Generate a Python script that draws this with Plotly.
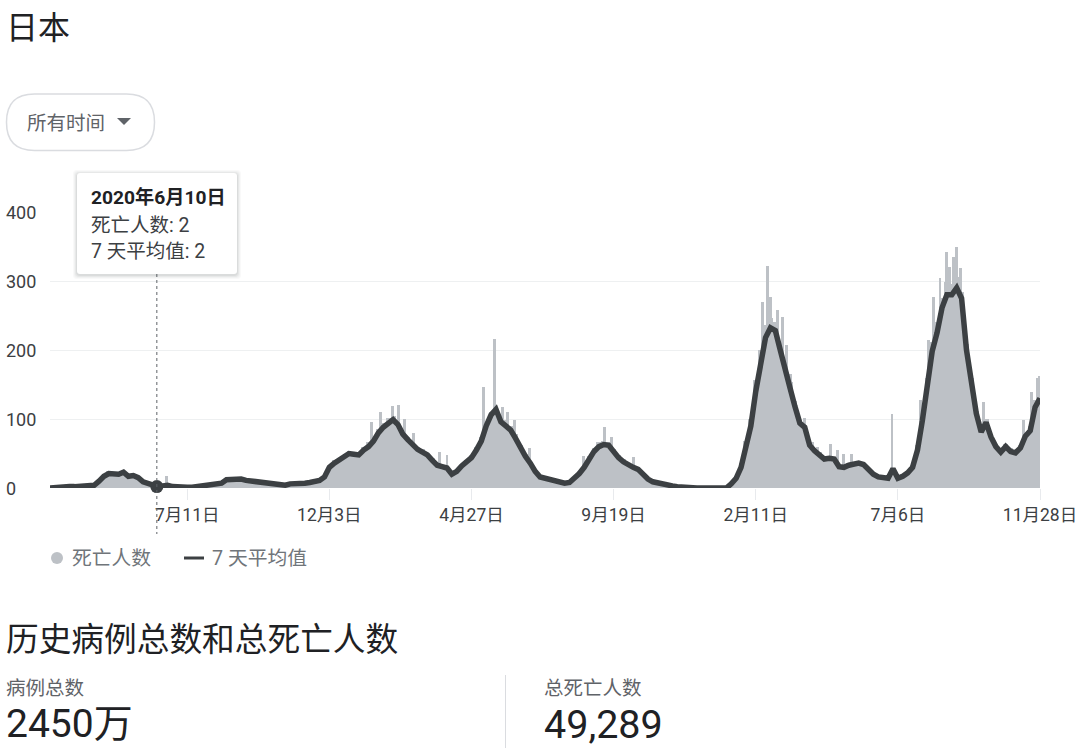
import pandas as pd
import plotly.graph_objects as go

W, H = 1080, 748

# data, one value every 5 days from 2020-02-22
start_date = "2020-02-22"
avg_7d = [0, 1, 1, 1, 2, 2, 3, 3, 4, 4, 10, 17, 21, 20, 20, 23, 17, 18, 15, 9,
          7, 4, 2, 3, 4, 2, 1, 1, 1, 1, 2, 3, 3, 4, 5, 7, 12, 13, 12, 13,
          11, 10, 8, 7, 6, 7, 5, 3, 4, 6, 6, 7, 7, 8, 9, 11, 16, 30, 36, 40,
          44, 50, 49, 48, 55, 60, 68, 80, 88, 94, 99, 92, 78, 70, 62, 56, 52, 48, 40, 33,
          31, 29, 20, 24, 32, 38, 44, 55, 68, 90, 106, 114, 96, 90, 84, 72, 58, 46, 36, 24,
          16, 14, 13, 11, 8, 7, 8, 14, 21, 30, 42, 53, 60, 63, 62, 52, 44, 38, 33, 30,
          27, 20, 13, 9, 7, 5, 3, 3, 2, 1, 1, 1, 0, 0, 0, 0, 0, 0, 0, 6,
          14, 30, 60, 90, 140, 185, 218, 232, 228, 200, 168, 145, 118, 94, 88, 62, 54, 48, 42, 43,
          42, 31, 30, 33, 34, 36, 34, 26, 20, 16, 15, 14, 28, 14, 17, 22, 30, 55, 98, 145,
          198, 225, 261, 280, 280, 290, 275, 200, 155, 108, 81, 95, 74, 60, 52, 60, 53, 51, 58, 75,
          83, 117, 130]
deaths_base = [0, 0, 1, 1, 2, 2, 3, 4, 4, 5, 11, 19, 24, 22, 21, 25, 19, 19, 15, 10,
               7, 4, 2, 4, 5, 2, 1, 1, 1, 1, 2, 3, 4, 4, 6, 8, 13, 14, 13, 14,
               12, 10, 9, 7, 7, 7, 5, 4, 5, 6, 7, 8, 8, 9, 10, 12, 18, 32, 40, 44,
               48, 54, 52, 52, 60, 66, 74, 86, 94, 102, 104, 94, 82, 74, 66, 60, 56, 50, 44, 36,
               34, 30, 22, 26, 34, 40, 48, 60, 74, 96, 110, 114, 104, 98, 90, 78, 62, 50, 38, 26,
               18, 16, 15, 12, 9, 8, 10, 16, 24, 34, 46, 58, 66, 68, 66, 56, 48, 42, 36, 32,
               28, 22, 15, 10, 8, 6, 4, 3, 2, 2, 1, 1, 0, 0, 0, 0, 0, 0, 1, 8,
               18, 36, 68, 100, 156, 200, 236, 246, 240, 212, 180, 154, 126, 96, 92, 66, 58, 52, 46, 46,
               44, 34, 34, 36, 36, 38, 36, 28, 22, 18, 16, 15, 20, 16, 20, 24, 34, 62, 108, 160,
               212, 240, 276, 298, 296, 306, 284, 208, 160, 112, 84, 100, 78, 64, 56, 64, 58, 54, 62, 80,
               90, 128, 100]
spike_dates = ["2020-06-20", "2021-01-15", "2021-01-24", "2021-02-05", "2021-02-12",
               "2021-02-18", "2021-02-27", "2021-03-25", "2021-04-02", "2021-05-09",
               "2021-05-20", "2021-05-29", "2021-06-03", "2021-06-10", "2021-06-25",
               "2021-08-19", "2021-09-10", "2021-09-17", "2021-10-09", "2022-02-18",
               "2022-02-23", "2022-02-26", "2022-03-05", "2022-03-10", "2022-03-14",
               "2022-03-18", "2022-04-02", "2022-04-10", "2022-04-15", "2022-04-28",
               "2022-05-05", "2022-05-12", "2022-05-20", "2022-06-30", "2022-07-29",
               "2022-08-06", "2022-08-11", "2022-08-18", "2022-08-25", "2022-08-28",
               "2022-09-01", "2022-09-04", "2022-09-08", "2022-09-14", "2022-10-01",
               "2022-11-11", "2022-11-19", "2022-11-25", "2022-11-27"]
spike_values = [17, 96, 110, 119, 120, 100, 80, 52, 48, 147,
                216, 118, 110, 99, 58, 46, 88, 74, 45, 270,
                322, 277, 258, 248, 207, 165, 101, 66, 60, 64,
                55, 50, 50, 107, 128, 214, 277, 304, 342, 320,
                335, 349, 319, 219, 125, 99, 139, 159, 162]
x_ticks = ["2020-07-11", "2020-12-03", "2021-04-27", "2021-09-19", "2022-02-11", "2022-07-06", "2022-11-28"]
x_labels = ["7月11日", "12月3日", "4月27日", "9月19日", "2月11日", "7月6日", "11月28日"]
y_ticks = [0, 100, 200, 300, 400]
hover_date = "2020-06-10"
hover_value = 2

dates = pd.date_range(start_date, periods=len(avg_7d), freq="5D")
DAY_MS = 86400000
FONT = "Roboto, 'Noto Sans CJK SC', sans-serif"


def px(x):
    return x / W


def py(y):
    return 1 - y / H


def label(x, y, text, size, color="#3c4043", anchor="left"):
    return dict(x=px(x), y=py(y), xref="paper", yref="paper", text=text, showarrow=False,
                xanchor=anchor, yanchor="middle", borderpad=0,
                font=dict(family=FONT, size=size, color=color))


def round_rect(x0, y0, x1, y1, r):
    a, b, c, d = px(x0), py(y0), px(x1), py(y1)
    rx, ry = r / W, r / H
    return (f"M {a + rx} {b} L {c - rx} {b} Q {c} {b} {c} {b - ry} L {c} {d + ry} Q {c} {d} {c - rx} {d} "
            f"L {a + rx} {d} Q {a} {d} {a} {d + ry} L {a} {b - ry} Q {a} {b} {a + rx} {b} Z")


fig = go.Figure()
fig.add_trace(go.Bar(x=dates, y=deaths_base, width=5 * DAY_MS, marker=dict(color="#bdc1c6", line_width=0),
                     cliponaxis=False, hoverinfo="skip", name="死亡人数"))
fig.add_trace(go.Bar(x=pd.to_datetime(spike_dates), y=spike_values, width=3 * DAY_MS,
                     marker=dict(color="#bdc1c6", line_width=0), cliponaxis=False, hoverinfo="skip",
                     showlegend=False))
fig.add_trace(go.Scatter(x=dates, y=avg_7d, mode="lines", line=dict(color="#3c4043", width=5.5),
                         cliponaxis=False, hoverinfo="skip", name="7 天平均值"))
fig.add_trace(go.Scatter(x=[hover_date], y=[hover_value], mode="markers", cliponaxis=False,
                         marker=dict(color="#3c4043", size=13), hoverinfo="skip", showlegend=False))

shapes = [
    # hover line
    dict(type="line", xref="x", yref="paper", x0=hover_date, x1=hover_date, y0=py(274), y1=py(534),
         line=dict(color="#5f6368", width=1, dash="dot")),
    # time range button
    dict(type="path", xref="paper", yref="paper", path=round_rect(6.5, 94, 154.5, 150.5, 28),
         line=dict(color="#dadce0", width=1.5), fillcolor="white"),
    dict(type="path", xref="paper", yref="paper",
         path=f"M {px(117)} {py(118)} L {px(131)} {py(118)} L {px(124)} {py(125)} Z",
         line_width=0, fillcolor="#5f6368"),
    # legend marks
    dict(type="circle", xref="paper", yref="paper", x0=px(51), x1=px(63), y0=py(552), y1=py(564),
         line_width=0, fillcolor="#bdc1c6"),
    dict(type="line", xref="paper", yref="paper", x0=px(184), x1=px(204), y0=py(558), y1=py(558),
         line=dict(color="#3c4043", width=3)),
    # divider
    dict(type="line", xref="paper", yref="paper", x0=px(505.5), x1=px(505.5), y0=py(675), y1=py(748),
         line=dict(color="#dadce0", width=1)),
]
# tooltip shadow then box
for grow, alpha in [(4, 0.03), (3, 0.04), (2, 0.05), (1, 0.07)]:
    shapes.append(dict(type="path", xref="paper", yref="paper", layer="above",
                       path=round_rect(77 - grow, 173 - grow + 1, 237 + grow, 274 + grow + 1, 4),
                       line_width=0, fillcolor=f"rgba(60,64,67,{alpha})"))
shapes.append(dict(type="path", xref="paper", yref="paper", layer="above",
                   path=round_rect(77, 173, 237, 274, 3), line_width=0, fillcolor="white"))

annotations = [
    label(5, 28, "日本", 32, "#202124"),
    label(26, 123, "所有时间", 19.5, "#5f6368"),
    label(90, 198, "<b>2020年6月10日</b>", 19.2, "#202124"),
    label(90, 225, "死亡人数: 2", 19.5),
    label(90, 251, "7 天平均值: 2", 19.5),
    label(71, 558, "死亡人数", 19.8, "#70757a"),
    label(211, 558, "7 天平均值", 19.8, "#70757a"),
    label(5, 640, "历史病例总数和总死亡人数", 32.7, "#202124"),
    label(5, 688, "病例总数", 19.5, "#5f6368"),
    label(5, 724, "2450万", 39, "#202124"),
    label(543, 688, "总死亡人数", 19.5, "#5f6368"),
    label(543, 724, "49,289", 39.5, "#202124"),
]
for v in y_ticks:
    annotations.append(dict(x=px(5), xref="paper", y=v, yref="y", text=str(v), showarrow=False,
                            xanchor="left", yanchor="middle", borderpad=0,
                            font=dict(family=FONT, size=18, color="#3c4043")))

fig.update_layout(
    width=W, height=H, margin=dict(l=0, r=0, t=0, b=0), paper_bgcolor="white", plot_bgcolor="white",
    barmode="overlay", bargap=0, showlegend=False, shapes=shapes, annotations=annotations,
    font=dict(family=FONT, color="#3c4043"),
)
fig.update_xaxes(domain=[px(50), px(1040)], range=[start_date, "2022-11-28"], type="date", automargin=False,
                 tickmode="array", tickvals=x_ticks, ticktext=x_labels, ticks="outside", ticklen=11,
                 tickcolor="#e8eaed", tickwidth=1, tickfont=dict(family=FONT, size=17.5, color="#3c4043"),
                 showgrid=False, zeroline=False, showline=False)
fig.update_yaxes(domain=[py(488), py(212)], range=[0, 400], tickvals=y_ticks, showticklabels=False,
                 automargin=False, gridcolor="#eef0f1", gridwidth=1, zeroline=False, showline=False)

fig.write_html("out.html", config={"displayModeBar": False}, post_script="document.body.style.margin='0';")
